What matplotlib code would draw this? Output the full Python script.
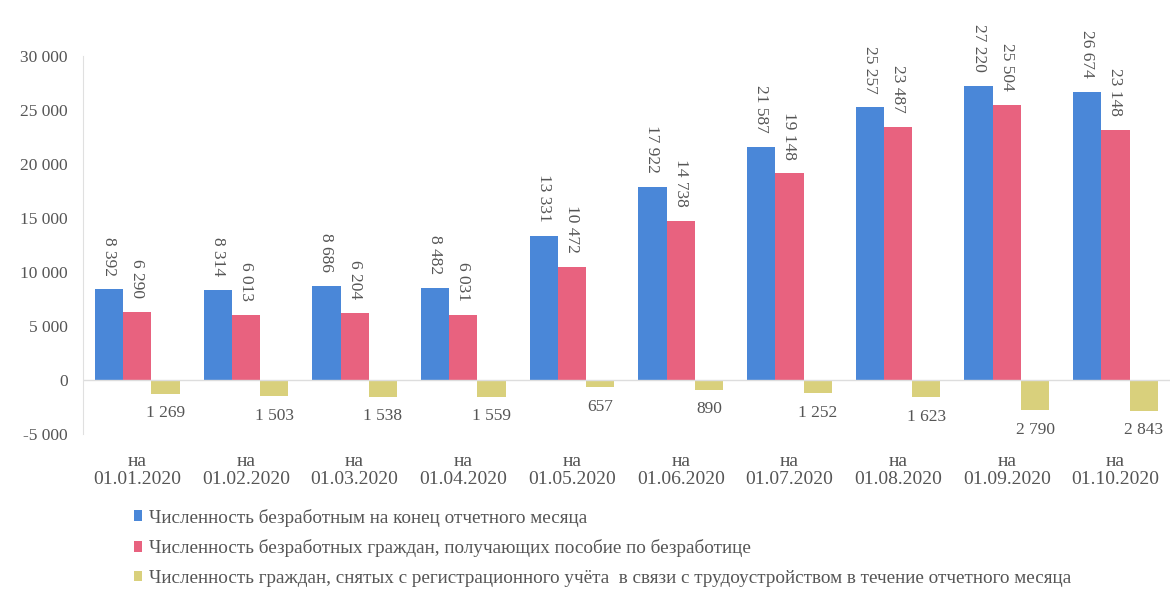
import matplotlib
matplotlib.use("Agg")
import matplotlib.pyplot as plt
import numpy as np

plt.rcParams["font.family"] = ["Liberation Serif", "DejaVu Serif"]

categories = ["на\n01.01.2020", "на\n01.02.2020", "на\n01.03.2020", "на\n01.04.2020", "на\n01.05.2020",
              "на\n01.06.2020", "на\n01.07.2020", "на\n01.08.2020", "на\n01.09.2020", "на\n01.10.2020"]
unemployed = [8392, 8314, 8686, 8482, 13331, 17922, 21587, 25257, 27220, 26674]
benefit = [6290, 6013, 6204, 6031, 10472, 14738, 19148, 23487, 25504, 23148]
employed = [-1269, -1503, -1538, -1559, -657, -890, -1252, -1623, -2790, -2843]
series_names = [
    "Численность безработным на конец отчетного месяца",
    "Численность безработных граждан, получающих пособие по безработице",
    "Численность граждан, снятых с регистрационного учёта  в связи с трудоустройством в течение отчетного месяца",
]

BLUE, PINK, YELLOW = "#4a87d8", "#e8627f", "#d9d07c"
TXT = "#555555"


def fmt(v):
    return f"{abs(v):,}".replace(",", " ")


fig = plt.figure(figsize=(11.75, 5.92), dpi=100)
ax = fig.add_axes([0.0706, 0.267, 0.925, 0.638])

x = np.arange(len(categories))
w = 0.26
b1 = ax.bar(x - w, unemployed, w, color=BLUE, label=series_names[0])
b2 = ax.bar(x, benefit, w, color=PINK, label=series_names[1])
b3 = ax.bar(x + w, employed, w, color=YELLOW, label=series_names[2])

for bars, vals in ((b1, unemployed), (b2, benefit)):
    for r, v in zip(bars, vals):
        ax.annotate(fmt(v), (r.get_x() + r.get_width() / 2, v), xytext=(0, 10), textcoords="offset points",
                    rotation=270, ha="center", va="bottom", fontsize=12.5, color=TXT)
for r, v in zip(b3, employed):
    ax.annotate(fmt(v), (r.get_x() + r.get_width() / 2, v), xytext=(0, -14), textcoords="offset points",
                ha="center", va="center", fontsize=12.5, color=TXT)

ax.set_xlim(-0.5, len(categories) - 0.5)
ax.set_ylim(-5000, 30000)
ax.set_yticks(np.arange(-5000, 30001, 5000))
ax.set_yticklabels([("-" if t < 0 else "") + fmt(t) for t in range(-5000, 30001, 5000)])
ax.set_xticks(x)
ax.set_xticklabels(categories, fontsize=14, color=TXT, linespacing=1.08)
ax.tick_params(axis="y", labelsize=12.5, colors=TXT, length=0, pad=11)
ax.tick_params(axis="x", length=0, pad=14)
ax.axhline(0, color="#dddddd", lw=1)
for s in ("top", "right", "bottom"):
    ax.spines[s].set_visible(False)
ax.spines["left"].set_color("#e0e0e0")

fig.legend(loc="upper left", bbox_to_anchor=(0.114, 0.141), frameon=False, fontsize=13.8,
           handlelength=0.4, handleheight=0.5, handletextpad=0.4, labelspacing=0.66, labelcolor=TXT,
           borderaxespad=0, borderpad=0)

fig.savefig("out.png", dpi=100, facecolor="white")
